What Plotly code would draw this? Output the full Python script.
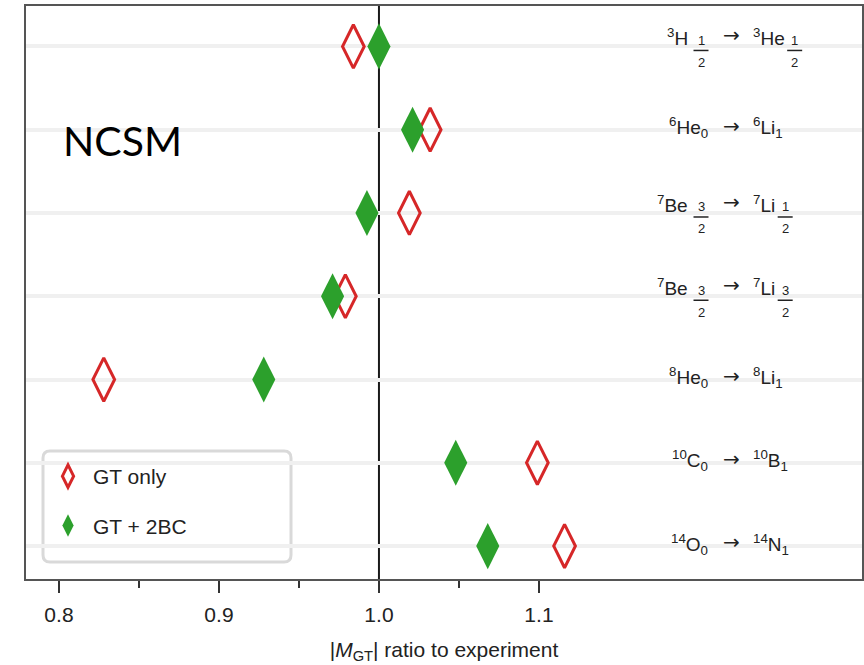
import plotly.graph_objects as go

# ---------------- data ----------------
rows = [0, 1, 2, 3, 4, 5, 6]
parent_mass = [3, 6, 7, 7, 8, 10, 14]
parent_sym = ["H", "He", "Be", "Be", "He", "C", "O"]
parent_J = ["1/2", "0", "3/2", "3/2", "0", "0", "0"]
daughter_mass = [3, 6, 7, 7, 8, 10, 14]
daughter_sym = ["He", "Li", "Li", "Li", "Li", "B", "N"]
daughter_J = ["1/2", "1", "1/2", "3/2", "1", "1", "1"]

gt_only = [0.984, 1.032, 1.019, 0.979, 0.828, 1.099, 1.116]
gt_2bc = [1.000, 1.021, 0.9925, 0.971, 0.928, 1.048, 1.068]

series_names = ["GT only", "GT + 2BC"]
x_tick_vals = [0.8, 0.9, 1.0, 1.1]
x_tick_text = ["0.8", "0.9", "1.0", "1.1"]
x_minor_vals = [0.85, 0.95, 1.05]
reference_value = 1.0
method_label = "NCSM"

# ---------------- layout geometry ----------------
W, H = 864, 665
ML, MR, MT, MB = 26, 2, 6, 86
PW = W - ML - MR
PH = H - MT - MB

RED = "#d62728"
GREEN = "#2ca02c"
TXT = "#222222"
FONT = "Liberation Sans, Arial, sans-serif"


def xp(px):
    return (px - ML) / PW


def yp(py):
    return (H - MB - py) / PH


# Arial-like advance widths (em) for label width estimation
AW = {"H": .722, "e": .556, "L": .556, "i": .222, "B": .667, "C": .722,
      "N": .722, "O": .778, "b": .556}
LF = 19   # label font
FF = 13   # fraction font


def text_w(mass, sym):
    w = 0.7 * LF * 0.556 * len(str(mass))
    for ch in sym:
        w += LF * AW.get(ch, 0.6)
    return w


fig = go.Figure()

fig.add_trace(go.Scatter(
    x=gt_only, y=rows, mode="markers", name=series_names[0],
    legendgroup="a",
    marker=dict(symbol="diamond-tall-open", size=31, color=RED,
                line=dict(color=RED, width=3)),
))
fig.add_trace(go.Scatter(
    x=gt_2bc, y=rows, mode="markers", name=series_names[1],
    legendgroup="b",
    marker=dict(symbol="diamond-tall", size=33, color=GREEN,
                line=dict(width=0)),
))

annotations = []
shapes = []

# reference vertical line
shapes.append(dict(type="line", xref="x", yref="paper", x0=reference_value,
                   x1=reference_value, y0=0, y1=1,
                   line=dict(color="#1a1a1a", width=2), layer="between"))

FRAC_SHIFT = 9
INT_SHIFT = 2


def add_fraction(cx_px, row, jstr):
    num, den = jstr.split("/")
    annotations.append(dict(x=xp(cx_px), y=row, xref="paper", yref="y",
                            text=num, showarrow=False, xanchor="center",
                            yanchor="middle", yshift=6,
                            font=dict(size=FF, color=TXT, family=FONT)))
    annotations.append(dict(x=xp(cx_px), y=row, xref="paper", yref="y",
                            text=den, showarrow=False, xanchor="center",
                            yanchor="middle", yshift=-16,
                            font=dict(size=FF, color=TXT, family=FONT)))
    shapes.append(dict(type="line", xref="paper", yref="y", ysizemode="pixel",
                       yanchor=row, x0=xp(cx_px - 7.5), x1=xp(cx_px + 7.5),
                       y0=-4, y1=-4, line=dict(color=TXT, width=1.5)))


for r, pa, ps, pj, da, ds, dj in zip(rows, parent_mass, parent_sym, parent_J,
                                      daughter_mass, daughter_sym, daughter_J):
    frac_row = "/" in pj or "/" in dj
    shift = FRAC_SHIFT if frac_row else INT_SHIFT
    # parent
    if "/" in pj:
        annotations.append(dict(x=xp(690), y=r, xref="paper", yref="y",
                                text=f"<sup>{pa}</sup>{ps}", showarrow=False,
                                xanchor="right", yanchor="middle", yshift=shift,
                                font=dict(size=LF, color=TXT, family=FONT)))
        add_fraction(701, r, pj)
    else:
        annotations.append(dict(x=xp(710), y=r, xref="paper", yref="y",
                                text=f"<sup>{pa}</sup>{ps}<sub>{pj}</sub>",
                                showarrow=False, xanchor="right",
                                yanchor="middle", yshift=shift,
                                font=dict(size=LF, color=TXT, family=FONT)))
    # arrow
    annotations.append(dict(x=xp(731), y=r, xref="paper", yref="y",
                            text="→", showarrow=False, xanchor="center",
                            yanchor="middle", yshift=shift + 2,
                            font=dict(size=20, color=TXT, family="DejaVu Sans")))
    # daughter
    if "/" in dj:
        annotations.append(dict(x=xp(751), y=r, xref="paper", yref="y",
                                text=f"<sup>{da}</sup>{ds}", showarrow=False,
                                xanchor="left", yanchor="middle", yshift=shift,
                                font=dict(size=LF, color=TXT, family=FONT)))
        add_fraction(751 + text_w(da, ds) + 12, r, dj)
    else:
        annotations.append(dict(x=xp(751), y=r, xref="paper", yref="y",
                                text=f"<sup>{da}</sup>{ds}<sub>{dj}</sub>",
                                showarrow=False, xanchor="left",
                                yanchor="middle", yshift=shift,
                                font=dict(size=LF, color=TXT, family=FONT)))

# method label
annotations.append(dict(x=xp(61), y=yp(140), xref="paper", yref="paper",
                        text=method_label, showarrow=False, xanchor="left",
                        yanchor="middle",
                        font=dict(size=41, color="#000000", family="Lato, Liberation Sans")))

# rounded legend box
lx0, lx1, ly0, ly1 = 43, 291, 451, 562
rad = 7
rx, ry = rad / PW, rad / PH
X0, X1, Y0, Y1 = xp(lx0), xp(lx1), yp(ly1), yp(ly0)
path = (f"M{X0 + rx},{Y1} L{X1 - rx},{Y1} Q{X1},{Y1} {X1},{Y1 - ry} "
        f"L{X1},{Y0 + ry} Q{X1},{Y0} {X1 - rx},{Y0} L{X0 + rx},{Y0} "
        f"Q{X0},{Y0} {X0},{Y0 + ry} L{X0},{Y1 - ry} Q{X0},{Y1} {X0 + rx},{Y1} Z")
shapes.append(dict(type="path", xref="paper", yref="paper", path=path,
                   fillcolor="white", line=dict(color="#d9d9d9", width=3),
                   layer="between"))

fig.update_layout(
    width=W, height=H,
    margin=dict(l=ML, r=MR, t=MT, b=MB),
    paper_bgcolor="white", plot_bgcolor="white",
    showlegend=True,
    legend=dict(x=xp(lx0), y=yp(ly0 + 5), xanchor="left", yanchor="top",
                bgcolor="rgba(0,0,0,0)", borderwidth=0,
                font=dict(size=21, color=TXT, family=FONT),
                tracegroupgap=19, itemsizing="trace", itemwidth=40),
    annotations=annotations,
    shapes=shapes,
    font=dict(family=FONT, color=TXT),
)

fig.update_xaxes(
    range=[0.7794, 1.3019],
    tickmode="array", tickvals=x_tick_vals, ticktext=x_tick_text,
    ticks="outside", ticklen=12, tickwidth=2, tickcolor="#333333",
    tickfont=dict(size=21, color=TXT, family=FONT),
    ticklabelstandoff=4,
    minor=dict(tickmode="array", tickvals=x_minor_vals, ticks="outside",
               ticklen=7, tickwidth=2, tickcolor="#333333", showgrid=False),
    showgrid=False, zeroline=False,
    showline=True, mirror=True, linecolor="#555555", linewidth=2,
    title=dict(text="|<i>M</i><sub>GT</sub>| ratio to experiment",
               font=dict(size=21, color=TXT, family=FONT), standoff=17),
    automargin=False,
)
fig.update_yaxes(
    range=[6.396, -0.486],
    tickmode="array", tickvals=rows, showticklabels=False, ticks="",
    showgrid=True, gridcolor="#f0f0f0", gridwidth=4,
    zeroline=False,
    showline=True, mirror=True, linecolor="#555555", linewidth=2,
    automargin=False,
)

fig.write_html("out.html")
